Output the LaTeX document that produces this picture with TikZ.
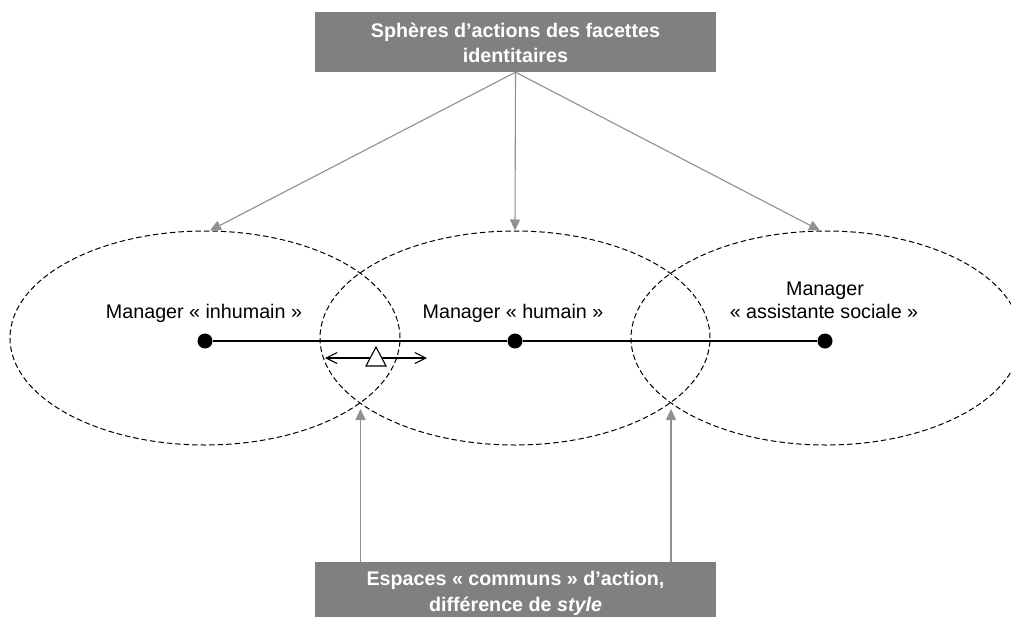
\documentclass[tikz,border=0pt]{standalone}
\usepackage{fontspec}
\setmainfont{Liberation Sans}
\usetikzlibrary{arrows.meta,shapes.geometric}
\definecolor{boxgray}{HTML}{808080}
\definecolor{arrgray}{HTML}{909090}
\begin{document}
\begin{tikzpicture}[x=1pt,y=-1pt,
  graybox/.style={draw=none,fill=boxgray,minimum width=401pt,minimum height=60pt,inner sep=0pt},
  boxtext/.style={text=white,font=\fontsize{19.7}{24}\selectfont\bfseries,inner sep=0pt,anchor=base},
  lbl/.style={text=black,font=\fontsize{19.7}{23}\selectfont,inner sep=0pt,anchor=base},
  sphere/.style={draw=black,ellipse,dash pattern=on 5.5pt off 3pt,line width=1pt,minimum width=390pt,minimum height=214pt,inner sep=0pt},
  dotnode/.style={circle,fill=black,minimum size=15pt,inner sep=0pt},
  garrow/.style={draw=arrgray,line width=1.1pt,-{Triangle[length=11pt,width=10pt]},fill=arrgray},
  dbl/.style={draw=black,line width=1.1pt,{Straight Barb[length=11pt,width=11pt]}-{Straight Barb[length=11pt,width=11pt]}}
]
\useasboundingbox (0,0) rectangle (1011,616);
\clip (0,0) rectangle (1011,616);

% ellipses
\node[sphere] (E1) at (205,338) {};
\node[sphere] (E2) at (515,338) {};
\node[sphere] (E3) at (826,338) {};

% boxes
\node[graybox] (top) at (515.5,42) {};
\node[boxtext] (t1) at (515.5,37) {Sphères d’actions des facettes};
\node[boxtext] (t2) at (515.5,62) {identitaires};

\node[graybox,minimum height=70pt] (bot) at (515.5,597) {};
\node[boxtext] (b1) at (515.5,585) {Espaces « communs » d’action,};
\node[boxtext] (b2) at (515.5,611) {différence de \textit{style}};

% labels
\node[lbl] (l1) at (204,318) {Manager « inhumain »};
\node[lbl] (l2) at (513,318) {Manager « humain »};
\node[lbl] (l3a) at (825,295) {Manager};
\node[lbl] (l3b) at (824,318) {« assistante sociale »};

% dots and line
\node[dotnode] (d1) at (205,341) {};
\node[dotnode] (d2) at (515,341) {};
\node[dotnode] (d3) at (825,341) {};
\draw[line width=1.1pt] (d1) -- (d2);
\draw[line width=1.1pt] (d2) -- (d3);

% double arrow with triangle
\coordinate (al) at (325,358);
\coordinate (ar) at (427,358);
\draw[dbl] (al) -- (ar);
\draw[line width=1.1pt,fill=white] (366,366) -- (376,347) -- (386,366) -- cycle;

% top arrows
\draw[garrow] (top.south) -- ([xshift=5pt]E1.north);
\draw[garrow] (top.south) -- (E2.north);
\draw[garrow] (top.south) -- ([xshift=-6pt]E3.north);

% bottom arrows
\coordinate (i12) at (360.5,409);
\coordinate (i23) at (671,409);
\draw[garrow] (i12 |- bot.north) -- (i12);
\draw[garrow] (i23 |- bot.north) -- (i23);
\end{tikzpicture}
\end{document}
